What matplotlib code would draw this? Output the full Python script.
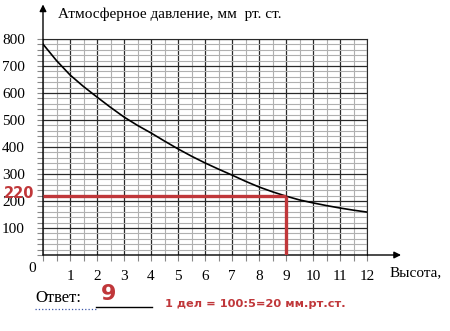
import matplotlib
matplotlib.use("Agg")
from matplotlib import pyplot as plt
from matplotlib.ticker import MultipleLocator

# data (every half km)
height = [0, 0.5, 1, 1.5, 2, 2.5, 3, 3.5, 4, 4.5, 5, 5.5, 6,
          6.5, 7, 7.5, 8, 8.5, 9, 9.5, 10, 10.5, 11, 11.5, 12]
pressure = [781, 720, 667, 624, 585, 547, 511, 480, 452, 422, 393, 366, 341,
            318, 296, 273, 252, 234, 218, 204, 193, 183, 174, 166, 159]
x_ticks = [1, 2, 3, 4, 5, 6, 7, 8, 9, 10, 11, 12]
y_ticks = [100, 200, 300, 400, 500, 600, 700, 800]
answer_x = 9
answer_y = 220

red = "#c0373a"
serif = "Liberation Serif"

fig = plt.figure(figsize=(4.5, 3.31), dpi=100)
ax = fig.add_axes([43 / 450, 1 - 255 / 331, 324 / 450, 216 / 331])
ax.set_xlim(0, 12)
ax.set_ylim(0, 800)

# grid
ax.xaxis.set_major_locator(MultipleLocator(1))
ax.xaxis.set_minor_locator(MultipleLocator(0.5))
ax.yaxis.set_major_locator(MultipleLocator(100))
ax.yaxis.set_minor_locator(MultipleLocator(20))
ax.grid(which="minor", color="#b0b0b0", lw=0.8)
ax.grid(which="major", color="#2a2a2a", lw=0.9)
ax.set_axisbelow(True)
ax.tick_params(which="both", direction="out", length=4, color="#888888", width=0.8)
ax.tick_params(which="major", labelsize=11, pad=7)
ax.set_xticks(x_ticks)
ax.set_yticks(y_ticks)
ax.set_xticklabels([str(t) for t in x_ticks], family=serif)
ax.set_yticklabels([str(t) for t in y_ticks], family=serif)
ax.tick_params(axis="y", pad=9)

for s in ["left", "bottom"]:
    ax.spines[s].set_visible(False)
ax.spines["right"].set_color("#2a2a2a")
ax.spines["top"].set_color("#2a2a2a")

# axes with arrows
ax.annotate("", xy=(0, 1.16), xytext=(0, 0), xycoords="axes fraction",
            arrowprops=dict(arrowstyle="-|>", color="black", lw=1.0, mutation_scale=10,
                            shrinkA=0, shrinkB=0), annotation_clip=False)
ax.annotate("", xy=(1.105, 0), xytext=(0, 0), xycoords="axes fraction",
            arrowprops=dict(arrowstyle="-|>", color="black", lw=1.0, mutation_scale=10,
                            shrinkA=0, shrinkB=0), annotation_clip=False)

# curve
ax.plot(height, pressure, color="black", lw=1.2, zorder=3)

# red reading lines
ax.plot([0, answer_x], [answer_y, answer_y], color=red, lw=2.4, zorder=4, solid_capstyle="butt")
ax.plot([answer_x, answer_x], [0, answer_y], color=red, lw=2.4, zorder=4, solid_capstyle="butt")

# texts
fig.text(58 / 450, 1 - 14 / 331, "Атмосферное давление, мм  рт. ст.", family=serif,
         fontsize=11, va="center", ha="left")
fig.text(32 / 450, 1 - 268 / 331, "0", family=serif, fontsize=11, va="center", ha="center")
fig.text(390 / 450, 1 - 273 / 331, "Высота,", family=serif, fontsize=11, va="center", ha="left")
fig.text(4 / 450, 1 - 193 / 331, str(answer_y), color=red, fontsize=10.5, fontweight="bold",
         family="DejaVu Sans", va="center", ha="left")

fig.text(35 / 450, 1 - 298 / 331, "Ответ:", family=serif, fontsize=12, va="center", ha="left")
fig.add_artist(plt.Line2D([35 / 450, 96 / 450], [1 - 309 / 331, 1 - 309 / 331],
                          color="#3a55a8", lw=0.9, ls=":"))
fig.add_artist(plt.Line2D([96 / 450, 152 / 450], [1 - 307 / 331, 1 - 307 / 331],
                          color="black", lw=1.0))
fig.text(109 / 450, 1 - 294 / 331, str(answer_x), color=red, fontsize=16, fontweight="bold",
         family="DejaVu Sans", va="center", ha="center")
fig.text(165 / 450, 1 - 304 / 331, "1 дел = 100:5=20 мм.рт.ст.", color=red, fontsize=8.2,
         fontweight="bold", family="DejaVu Sans", va="center", ha="left")

fig.savefig("out.png", dpi=100)
